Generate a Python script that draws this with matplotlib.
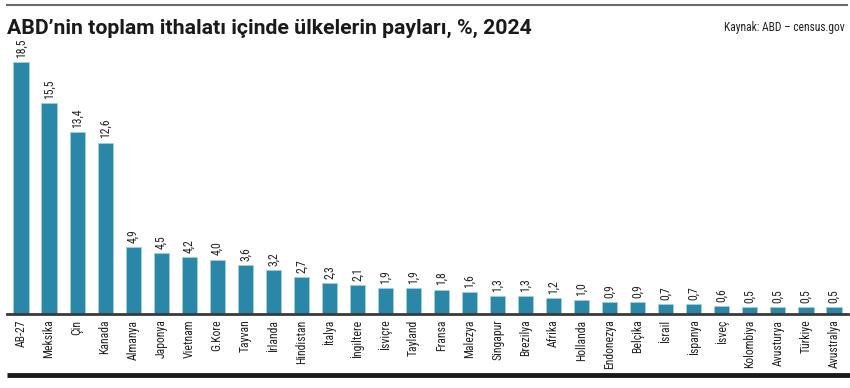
import matplotlib
matplotlib.use("Agg")
import matplotlib.pyplot as plt
from matplotlib import font_manager as fm
from matplotlib.lines import Line2D

categories = ["AB-27", "Meksika", "Çin", "Kanada", "Almanya", "Japonya", "Vietnam",
              "G.Kore", "Tayvan", "İrlanda", "Hindistan", "İtalya", "İngiltere",
              "İsviçre", "Tayland", "Fransa", "Malezya", "Singapur", "Brezilya",
              "Afrika", "Hollanda", "Endonezya", "Belçika", "İsrail", "İspanya",
              "İsveç", "Kolombiya", "Avusturya", "Türkiye", "Avustralya"]
values = [18.5, 15.5, 13.4, 12.6, 4.9, 4.5, 4.2, 4.0, 3.6, 3.2, 2.7, 2.3, 2.1,
          1.9, 1.9, 1.8, 1.6, 1.3, 1.3, 1.2, 1.0, 0.9, 0.9, 0.7, 0.7, 0.6,
          0.5, 0.5, 0.5, 0.5]
title = "ABD’nin toplam ithalatı içinde ülkelerin payları, %, 2024"
source = "Kaynak: ABD – census.gov"

avail = {f.name for f in fm.fontManager.ttflist}
cond = next((f for f in ["Roboto Condensed", "Liberation Sans Narrow",
                         "DejaVu Sans Condensed", "Open Sans Condensed"] if f in avail),
            "Liberation Sans")
plt.rcParams['font.family'] = [cond, 'DejaVu Sans']

W, H = 850, 388
fig = plt.figure(figsize=(W / 100, H / 100), dpi=100)

ax_left, ax_right = 7, 848
base_y, top_y = 314, 42
ax = fig.add_axes([ax_left / W, (H - base_y) / H, (ax_right - ax_left) / W,
                   (base_y - top_y) / H])
x = list(range(len(categories)))
ax.bar(x, values, width=0.54, color="#2a87a7", edgecolor="#9fd0e0",
       linewidth=0.6, zorder=2)
ax.set_xlim(-0.5, len(categories) - 0.5)
ax.set_ylim(0, 20)
for s in ["top", "left", "right"]:
    ax.spines[s].set_visible(False)
ax.spines["bottom"].set_color("#3a3a3a")
ax.spines["bottom"].set_linewidth(2)
ax.set_yticks([])
ax.set_xticks(x)
ax.set_xticklabels(categories, rotation=90, fontsize=8.5, color="#222222",
                   va="top", ha="center")
ax.tick_params(axis="x", length=0, pad=4)

for xi, v in zip(x, values):
    ax.annotate(f"{v:.1f}".replace(".", ","), (xi, v), xytext=(0, 3),
                textcoords="offset points", rotation=90, ha="center", va="bottom",
                fontsize=8.5, color="#222222")

# top gray rule
fig.add_artist(Line2D([7 / W, 847 / W], [(H - 5) / H] * 2, color="#6a6a6a",
                      linewidth=1.5, transform=fig.transFigure))
# bottom thick rule
fig.add_artist(Line2D([7 / W, 1.0], [(H - 375) / H] * 2, color="#1a1a1a",
                      linewidth=3.5, transform=fig.transFigure, solid_capstyle="butt"))

fig.text(7 / W, (H - 28) / H, title, fontsize=15.3, fontweight="bold",
         color="#1a1a1a", ha="left", va="center", family=["Roboto", "DejaVu Sans"])
fig.text(845 / W, (H - 28) / H, source, fontsize=8.3, color="#222222",
         ha="right", va="center")

fig.savefig("out.png", dpi=100)
